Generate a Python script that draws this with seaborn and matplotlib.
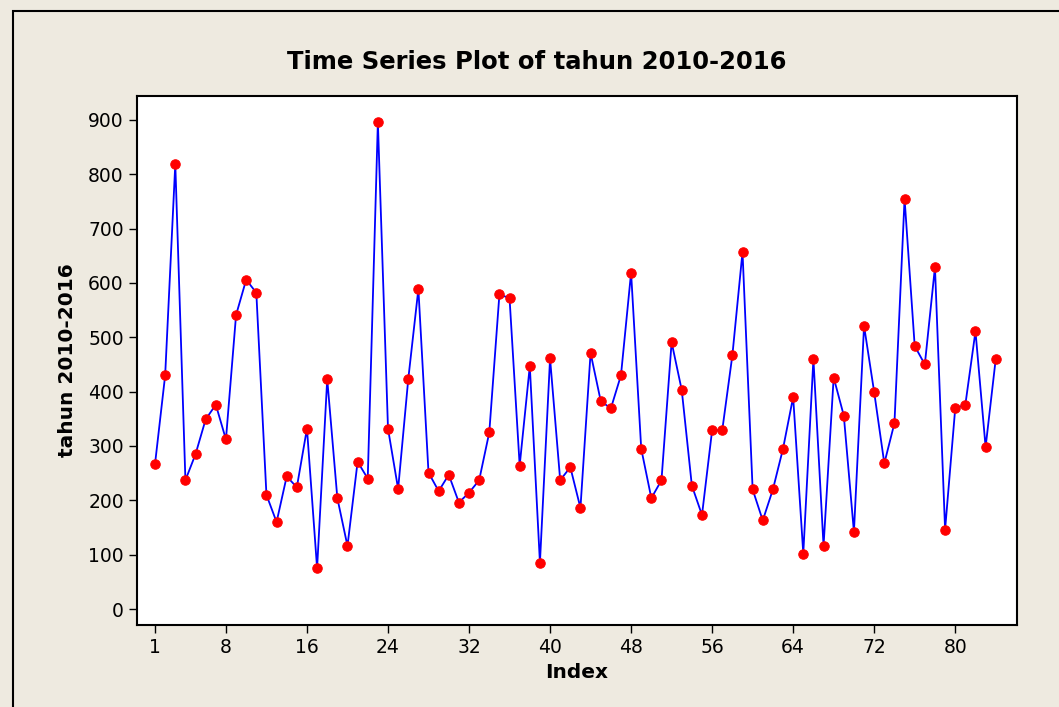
import numpy as np
import pandas as pd
import matplotlib
matplotlib.use("Agg")
import matplotlib.pyplot as plt
import seaborn as sns
from matplotlib.patches import Rectangle

# values (index 1..84)
values = [
    267, 430, 819, 237, 285, 349, 376, 312, 541, 606,
    582, 210, 160, 244, 224, 332, 75, 423, 204, 116,
    271, 240, 896, 332, 221, 423, 589, 251, 217, 247,
    196, 214, 237, 325, 579, 572, 264, 447, 85, 461,
    237, 261, 186, 471, 383, 369, 430, 619, 295, 204,
    237, 491, 403, 227, 173, 329, 329, 467, 657, 220,
    163, 220, 295, 390, 102, 460, 116, 426, 356, 142,
    521, 399, 268, 342, 755, 484, 450, 629, 146, 369,
    376, 511, 298, 460,
]
index = list(range(1, len(values) + 1))
x_ticks = [1, 8, 16, 24, 32, 40, 48, 56, 64, 72, 80]
y_ticks = [0, 100, 200, 300, 400, 500, 600, 700, 800, 900]

df = pd.DataFrame({"Index": index, "tahun 2010-2016": values})

sns.set_style("ticks")
plt.rcParams["font.family"] = ["DejaVu Sans"]
plt.rcParams["text.color"] = "black"
plt.rcParams["axes.labelcolor"] = "black"

bg = "#eeeae0"
fig = plt.figure(figsize=(10.59, 7.07), dpi=100, facecolor=bg)
ax = fig.add_axes([137 / 1059, 1 - 625 / 707, 880 / 1059, 529 / 707])
ax.set_facecolor("white")

sns.lineplot(data=df, x="Index", y="tahun 2010-2016", ax=ax,
             color="#0000ff", linewidth=1.3, marker="o", markersize=6.8,
             markerfacecolor="#ff0000", markeredgecolor="#ff0000")

ax.set_xlim(-0.78, 86.1)
ax.set_ylim(-29.4, 944)
ax.set_xticks(x_ticks)
ax.set_yticks(y_ticks)
ax.tick_params(axis="both", direction="out", length=6, width=1, labelsize=13.5,
               colors="black")
for s in ax.spines.values():
    s.set_visible(True)
    s.set_linewidth(1.5)
    s.set_color("black")

ax.set_xlabel("Index", fontsize=14.5, fontweight="bold", labelpad=4, color="black")
ax.set_ylabel("tahun 2010-2016", fontsize=14.5, fontweight="bold", labelpad=8,
              color="black")
fig.text(537 / 1059, 1 - 62 / 707, "Time Series Plot of tahun 2010-2016",
         ha="center", va="center", fontsize=17.5, fontweight="bold", color="black")

# outer frame (left and top edges visible)
fig.patches.append(Rectangle((13 / 1059, -0.05), 1.2, 1 - 11 / 707 + 0.05,
                             transform=fig.transFigure, fill=False,
                             edgecolor="black", linewidth=1.5))

fig.savefig("out.png", dpi=100, facecolor=bg)
